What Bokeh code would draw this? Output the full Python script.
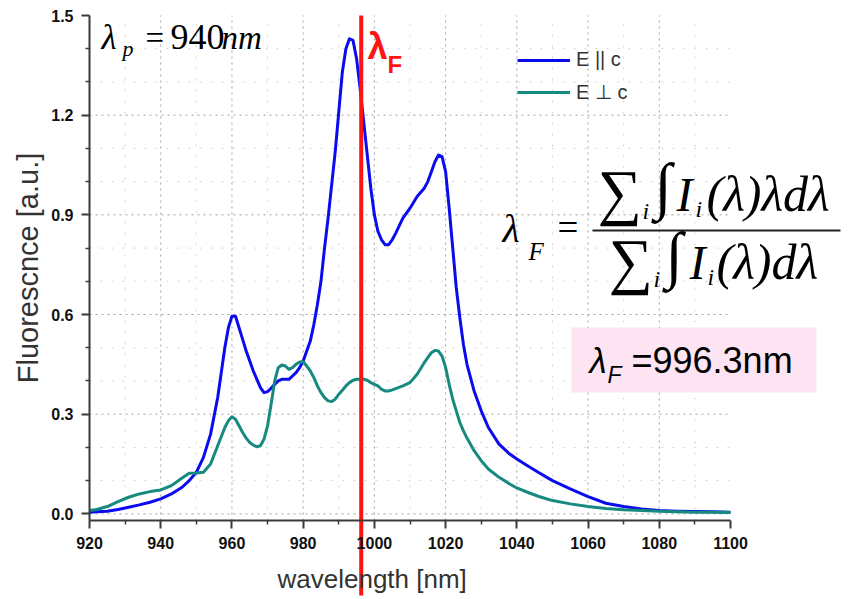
from bokeh.plotting import figure
from bokeh.models import (Range1d, FixedTicker, Label, Legend, LegendItem, LinearAxis,
                          BoxAnnotation, NumeralTickFormatter)
from bokeh.embed import file_html
from bokeh.resources import INLINE

# ---------------- data ----------------
wavelength = [920, 922, 925, 928, 931, 934, 937, 940, 943, 946, 948, 950, 952, 954, 956, 958,
              959, 960, 961, 962, 963, 964, 965, 966, 967, 968, 969, 970, 971, 972, 973, 974,
              975, 976, 977, 978, 979, 980, 981, 982, 983, 984, 985, 986, 987, 988, 989, 990,
              991, 992, 993, 994, 995, 996, 997, 998, 999, 1000, 1001, 1002, 1003, 1004, 1005,
              1006, 1008, 1010, 1012, 1014, 1015, 1016, 1017, 1018, 1019, 1020, 1021, 1022, 1023,
              1024, 1025, 1026, 1028, 1030, 1032, 1035, 1038, 1040, 1043, 1046, 1050, 1055, 1060,
              1065, 1070, 1075, 1080, 1085, 1090, 1095, 1100]

e_parallel = [0.005, 0.006, 0.008, 0.013, 0.020, 0.027, 0.035, 0.045, 0.060, 0.080, 0.100, 0.125,
              0.170, 0.240, 0.350, 0.500, 0.560, 0.595, 0.595, 0.560, 0.525, 0.490, 0.460, 0.430,
              0.405, 0.380, 0.365, 0.368, 0.378, 0.390, 0.400, 0.405, 0.405, 0.405, 0.415, 0.425,
              0.440, 0.460, 0.490, 0.520, 0.570, 0.630, 0.700, 0.800, 0.890, 0.990, 1.090, 1.210,
              1.330, 1.400, 1.430, 1.425, 1.370, 1.280, 1.180, 1.080, 0.980, 0.900, 0.850, 0.825,
              0.810, 0.810, 0.825, 0.845, 0.890, 0.920, 0.955, 0.980, 1.000, 1.030, 1.060, 1.080,
              1.075, 1.030, 0.920, 0.800, 0.680, 0.590, 0.510, 0.450, 0.370, 0.310, 0.260, 0.210,
              0.180, 0.165, 0.145, 0.125, 0.100, 0.075, 0.052, 0.032, 0.022, 0.015, 0.010, 0.008,
              0.007, 0.006, 0.005]

e_perp = [0.010, 0.013, 0.022, 0.037, 0.050, 0.060, 0.067, 0.072, 0.085, 0.108, 0.122, 0.123,
          0.125, 0.150, 0.205, 0.260, 0.280, 0.292, 0.285, 0.265, 0.245, 0.228, 0.215, 0.207,
          0.202, 0.205, 0.225, 0.265, 0.330, 0.400, 0.440, 0.448, 0.445, 0.435, 0.440, 0.450,
          0.457, 0.458, 0.445, 0.430, 0.410, 0.385, 0.365, 0.350, 0.340, 0.338, 0.345, 0.360,
          0.372, 0.385, 0.395, 0.402, 0.405, 0.405, 0.405, 0.402, 0.395, 0.390, 0.385, 0.375,
          0.370, 0.370, 0.373, 0.377, 0.385, 0.395, 0.420, 0.455, 0.470, 0.485, 0.492, 0.490,
          0.475, 0.440, 0.390, 0.345, 0.310, 0.275, 0.250, 0.228, 0.190, 0.160, 0.135, 0.110,
          0.090, 0.078, 0.065, 0.053, 0.040, 0.030, 0.022, 0.016, 0.012, 0.010, 0.008, 0.006,
          0.005, 0.005, 0.004]

series_labels = ["E || c", "E \u22a5 c"]
x_ticks = [920, 940, 960, 980, 1000, 1020, 1040, 1060, 1080, 1100]
x_minor_ticks = [930, 950, 970, 990, 1010, 1030, 1050, 1070, 1090]
y_ticks = [0.0, 0.3, 0.6, 0.9, 1.2, 1.5]
y_minor_ticks = [0.1, 0.2, 0.4, 0.5, 0.7, 0.8, 1.0, 1.1, 1.3, 1.4]
x_title = "wavelength [nm]"
y_title = "Fluorescnce [a.u.]"
lambda_F = 996.3
lambda_F_text = "=996.3nm"
lambda_p_text = "940"

X_MIN, X_MAX = 920, 1100
Y_MIN, Y_MAX = -0.02, 1.5

# ---------------- layout (canvas pixels) ----------------
W, H = 845, 596
AX_L, AX_R, AX_T, AX_B = 89, 730, 15, 520      # pixel box of the axes
SX = (AX_R - AX_L) / (X_MAX - X_MIN)
SY = (AX_B - AX_T) / (Y_MAX - Y_MIN)
BASE_SHIFT = 0.38                               # empirical baseline correction (em)


def X(px):
    return X_MIN + (px - AX_L) / SX


def Y(py):
    return Y_MAX - (py - AX_T) / SY


p = figure(width=W, height=H,
           x_range=Range1d(X(0), X(W)), y_range=Range1d(Y(H), Y(0)),
           output_backend="svg", toolbar_location=None,
           x_axis_location=None, y_axis_location=None, min_border=0)
p.outline_line_color = None
p.background_fill_color = "white"
p.xgrid.visible = False
p.ygrid.visible = False

# axes
xaxis = LinearAxis(fixed_location=Y_MIN, bounds=(X_MIN, X_MAX),
                   ticker=FixedTicker(ticks=x_ticks, minor_ticks=x_minor_ticks))
yaxis = LinearAxis(fixed_location=X_MIN, bounds=(Y_MIN, Y_MAX),
                   ticker=FixedTicker(ticks=y_ticks, minor_ticks=y_minor_ticks),
                   formatter=NumeralTickFormatter(format="0.0"))
for ax in (xaxis, yaxis):
    ax.axis_line_width = 2
    ax.axis_line_color = "#3a3a3a"
    ax.major_tick_line_color = "#3a3a3a"
    ax.minor_tick_line_color = "#3a3a3a"
    ax.major_tick_line_width = 2
    ax.minor_tick_line_width = 1.5
    ax.major_tick_in = 0
    ax.major_tick_out = 8
    ax.minor_tick_in = 0
    ax.minor_tick_out = 4
    ax.major_label_text_font = "Liberation Sans"
    ax.major_label_text_font_style = "bold"
    ax.major_label_text_font_size = "16px"
    ax.major_label_text_color = "#111111"
    ax.major_label_standoff = 8
    ax.axis_label_text_font = "Liberation Sans"
    ax.axis_label_text_font_style = "normal"
    ax.axis_label_text_color = "#333333"
yaxis.axis_label = y_title
yaxis.axis_label_text_font_size = "29px"
yaxis.axis_label_standoff = 4
p.add_layout(xaxis, "below")
p.add_layout(yaxis, "left")

# grid lines (drawn from the tick lists, limited to the axes box)
gx_major = x_ticks[1:-1]
gy_major = y_ticks[:-1]
p.segment(x0=x_minor_ticks, y0=[Y_MIN] * len(x_minor_ticks), x1=x_minor_ticks,
          y1=[Y_MAX] * len(x_minor_ticks), line_color="#d2d2d2", line_dash="2 9", line_width=1)
p.segment(x0=[X_MIN] * len(y_minor_ticks), y0=y_minor_ticks, x1=[X_MAX] * len(y_minor_ticks),
          y1=y_minor_ticks, line_color="#d2d2d2", line_dash="2 9", line_width=1)
p.segment(x0=gx_major, y0=[Y_MIN] * len(gx_major), x1=gx_major,
          y1=[Y_MAX] * len(gx_major), line_color="#a0a0a0", line_dash="2 4", line_width=1)
p.segment(x0=[X_MIN] * len(gy_major), y0=gy_major, x1=[X_MAX] * len(gy_major),
          y1=gy_major, line_color="#a0a0a0", line_dash="2 4", line_width=1)

# curves
r1 = p.line(wavelength, e_parallel, line_color="#0b0bf0", line_width=3, line_join="round")
r2 = p.line(wavelength, e_perp, line_color="#178a80", line_width=3, line_join="round")

# red lambda_F line
p.segment(x0=[lambda_F], y0=[Y_MAX], x1=[lambda_F], y1=[Y(595)],
          line_color="#ff1414", line_width=4)

legend = Legend(items=[LegendItem(label=series_labels[0], renderers=[r1]),
                       LegendItem(label=series_labels[1], renderers=[r2])],
                location=(517, H - 104), padding=0, margin=0, spacing=9,
                glyph_width=53, glyph_height=20, label_height=20, label_standoff=6,
                label_text_font="Liberation Sans", label_text_font_size="20px",
                label_text_color="#333333",
                background_fill_alpha=0, border_line_alpha=0)
p.add_layout(legend)

# pink result box
p.add_layout(BoxAnnotation(left=X(571), right=X(816), bottom=Y(392), top=Y(327),
                           fill_color="#fce4f2", fill_alpha=1.0, line_color=None))


def lab(text, px, py, size, font="Liberation Serif", style="normal", color="black", corr=True):
    y_px = py - BASE_SHIFT * size if corr else py
    p.add_layout(Label(x=X(px), y=Y(y_px), text=text, text_font=font, text_font_style=style,
                       text_font_size=f"{size}px", text_color=color,
                       text_align="left", text_baseline="alphabetic"))


# x-axis title
lab(x_title, 277, 588, 26, font="Liberation Sans", color="#333333")

# lambda_p = 940nm
lab("\u03bb", 101, 50, 35, style="italic")
lab("p", 122, 56, 22, style="italic")
lab("=", 145, 50, 33)
lab(lambda_p_text, 170, 50, 36)
lab("nm", 221, 50, 33, style="italic")

# red lambda_F label
lab("\u03bb", 367, 60, 36, font="Liberation Sans", style="bold", color="#ff1414")
lab("F", 387, 73, 24, font="Liberation Sans", style="bold", color="#ff1414")

# formula
lab("\u03bb", 502, 243, 40, style="italic")
lab("F", 528, 260, 25, style="italic")
lab("=", 557, 241, 37)
p.segment(x0=[X(592)], y0=[Y(230)], x1=[X(840)], y1=[Y(230)], line_color="#222222", line_width=2)
# numerator
lab("\u2211", 597, 191, 62, corr=False)
lab("i", 642, 220, 24, style="italic")
lab("\u222b", 654, 185, 63, corr=False)
lab("I", 676, 212, 48, style="italic")
lab("i", 695, 218, 24, style="italic")
lab("(\u03bb)\u03bbd\u03bb", 706, 212, 50, style="italic")
# denominator
lab("\u2211", 608, 260, 62, corr=False)
lab("i", 653, 288, 24, style="italic")
lab("\u222b", 665, 254, 63, corr=False)
lab("I", 689, 280, 48, style="italic")
lab("i", 707, 286, 24, style="italic")
lab("(\u03bb)d\u03bb", 716, 280, 50, style="italic")

# result text in pink box
lab("\u03bb", 589, 373, 35, font="Liberation Sans", style="italic")
lab("F", 607, 383, 23, font="Liberation Sans", style="italic")
lab(lambda_F_text, 631, 374, 36, font="Liberation Sans")

open("out.html", "w").write(file_html(p, INLINE))
